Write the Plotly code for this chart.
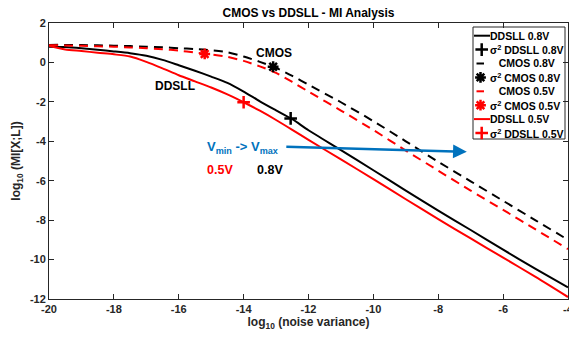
import plotly.graph_objects as go

# ---------------- data ----------------
x_noise = [-20, -19.5, -19, -18.5, -18, -17.5, -17, -16.5, -16, -15.5, -15, -14.5,
           -14, -13.5, -13, -12.5, -12, -11, -10, -9, -8, -7, -6, -5, -4]

mi_ddsll_08 = [0.80, 0.78, 0.72, 0.64, 0.56, 0.47, 0.34, 0.13, -0.14, -0.42, -0.72, -1.04,
               -1.48, -1.97, -2.43, -2.88, -3.44, -4.45, -5.47, -6.50, -7.52, -8.50, -9.50, -10.47, -11.41]
mi_cmos_08 = [0.89, 0.89, 0.88, 0.87, 0.85, 0.83, 0.80, 0.77, 0.72, 0.68, 0.62, 0.52,
              0.30, 0.03, -0.28, -0.68, -1.13, -2.02, -2.98, -4.00, -5.04, -6.03, -7.02, -8.01, -9.00]
mi_cmos_05 = [0.87, 0.86, 0.84, 0.82, 0.80, 0.76, 0.72, 0.67, 0.60, 0.50, 0.40, 0.28,
              0.08, -0.20, -0.53, -0.99, -1.48, -2.44, -3.43, -4.47, -5.49, -6.50, -7.48, -8.47, -9.47]
mi_ddsll_05 = [0.85, 0.66, 0.58, 0.49, 0.41, 0.30, 0.03, -0.30, -0.65, -0.96, -1.27, -1.62,
               -2.02, -2.45, -2.92, -3.42, -3.93, -4.92, -5.92, -6.94, -7.95, -8.93, -9.90, -10.88, -11.90]

sigma_ddsll_08_x = [-12.55]
sigma_ddsll_08_y = [-2.84]
sigma_cmos_08_x = [-13.09]
sigma_cmos_08_y = [-0.22]
sigma_cmos_05_x = [-15.2]
sigma_cmos_05_y = [0.43]
sigma_ddsll_05_x = [-14.0]
sigma_ddsll_05_y = [-2.02]

arrow_start = [-12.73, -4.27]
arrow_end = [-7.12, -4.53]

x_tick_vals = [-20, -18, -16, -14, -12, -10, -8, -6, -4]
x_tick_labels = ["-20", "-18", "-16", "-14", "-12", "-10", "-8", "-6", "-4"]
y_tick_vals = [2, 0, -2, -4, -6, -8, -10, -12]
y_tick_labels = ["2", "0", "-2", "-4", "-6", "-8", "-10", "-12"]

legend_labels = [
    "DDSLL 0.8V",
    "\u03c3<sup>2</sup> DDSLL 0.8V",
    "\u00a0\u00a0\u00a0CMOS 0.8V",
    "\u03c3<sup>2</sup> CMOS 0.8V",
    "\u00a0\u00a0\u00a0CMOS 0.5V",
    "\u03c3<sup>2</sup> CMOS 0.5V",
    "DDSLL 0.5V",
    "\u03c3<sup>2</sup> DDSLL 0.5V",
]

title_text = "CMOS vs DDSLL - MI Analysis"
x_title = "log<sub>10</sub> (noise variance)"
y_title = "log<sub>10</sub> (MI[X;L])"

# ---------------- styling ----------------
W, H = 569, 337
ML, MR, MT, MB = 49, 1, 23, 38
PW, PH = W - ML - MR, H - MT - MB
BLACK = "#000000"
RED = "#FF0000"
BLUE = "#0072BD"
AX = "#262626"
FONT = "Liberation Sans"
DASH = "9px,6px"
PLUS_SIZE = 9
STAR_SIZE = 9


def px_x(p):
    return (p - ML) / PW


def px_y(p):
    return (H - MB - p) / PH


fig = go.Figure()

line_kw = dict(mode="lines", line_shape="spline", hoverinfo="skip", showlegend=False)
fig.add_trace(go.Scatter(x=x_noise, y=mi_ddsll_08, line=dict(color=BLACK, width=2, smoothing=0.7), **line_kw))
fig.add_trace(go.Scatter(x=x_noise, y=mi_cmos_08, line=dict(color=BLACK, width=2, dash=DASH, smoothing=0.7), **line_kw))
fig.add_trace(go.Scatter(x=x_noise, y=mi_cmos_05, line=dict(color=RED, width=2, dash=DASH, smoothing=0.7), **line_kw))
fig.add_trace(go.Scatter(x=x_noise, y=mi_ddsll_05, line=dict(color=RED, width=2, smoothing=0.7), **line_kw))


def marker_trace(x, y, color, symbol, size, xa="x", ya="y"):
    return go.Scatter(x=x, y=y, mode="markers", showlegend=False, hoverinfo="skip",
                      xaxis=xa, yaxis=ya, cliponaxis=False,
                      marker=dict(symbol=symbol, size=size, color=color,
                                  line=dict(color=color, width=2.5)))


PLUS = "cross-thin-open"
STAR = "asterisk-open"
fig.add_trace(marker_trace(sigma_ddsll_08_x, sigma_ddsll_08_y, BLACK, PLUS, PLUS_SIZE))
fig.add_trace(marker_trace(sigma_cmos_08_x, sigma_cmos_08_y, BLACK, STAR, STAR_SIZE))
fig.add_trace(marker_trace(sigma_cmos_05_x, sigma_cmos_05_y, RED, STAR, STAR_SIZE))
fig.add_trace(marker_trace(sigma_ddsll_05_x, sigma_ddsll_05_y, RED, PLUS, PLUS_SIZE))

# ---------------- manual legend (MATLAB-style compact box) ----------------
shapes = []
annotations = []
box_l, box_r, box_t, box_b = 473, 565, 27, 139
shapes.append(dict(type="rect", xref="paper", yref="paper", layer="below",
                   x0=px_x(box_l), x1=px_x(box_r), y0=px_y(box_b), y1=px_y(box_t),
                   line=dict(color=AX, width=1), fillcolor="white"))
row0, row_step = 35.7, 13.9
leg_styles = [
    ("line", BLACK, "solid"),
    ("marker", BLACK, PLUS),
    ("line", BLACK, "dash"),
    ("marker", BLACK, STAR),
    ("line", RED, "dash"),
    ("marker", RED, STAR),
    ("line", RED, "solid"),
    ("marker", RED, PLUS),
]
for i, (label, (kind, color, sty)) in enumerate(zip(legend_labels, leg_styles)):
    yc = row0 + row_step * i
    if kind == "line":
        if sty == "solid":
            shapes.append(dict(type="line", xref="paper", yref="paper",
                               x0=px_x(474), x1=px_x(490), y0=px_y(yc), y1=px_y(yc),
                               line=dict(color=color, width=2)))
        else:
            shapes.append(dict(type="line", xref="paper", yref="paper",
                               x0=px_x(476.5), x1=px_x(484), y0=px_y(yc), y1=px_y(yc),
                               line=dict(color=color, width=2)))
    else:
        xs = 481.7 if sty == PLUS else 480.5
        fig.add_trace(marker_trace([px_x(xs)], [px_y(yc)], color, sty,
                                   PLUS_SIZE if sty == PLUS else STAR_SIZE, xa="x2", ya="y2"))
    annotations.append(dict(xref="paper", yref="paper", x=px_x(487.5), y=px_y(yc),
                            xanchor="left", yanchor="middle", showarrow=False,
                            text=label, font=dict(family=FONT, size=10.5, color=BLACK, weight="bold")))

# ---------------- text annotations ----------------
def ann(x, y, text, color, size):
    annotations.append(dict(x=x, y=y, xref="x", yref="y", text=text, showarrow=False,
                            xanchor="center", yanchor="middle",
                            font=dict(family=FONT, size=size, color=color, weight="bold")))


ann(-13.06, 0.49, "CMOS", BLACK, 12)
ann(-16.12, -1.20, "DDSLL", BLACK, 12)
ann(-14.02, -4.34, "V<sub>min</sub> -> V<sub>max</sub>", BLUE, 13)
ann(-14.73, -5.45, "0.5V", RED, 12.5)
ann(-13.19, -5.45, "0.8V", BLACK, 12.5)

annotations.append(dict(x=arrow_end[0], y=arrow_end[1], ax=arrow_start[0], ay=arrow_start[1],
                        xref="x", yref="y", axref="x", ayref="y", text="", showarrow=True,
                        arrowhead=2, arrowsize=1.1, arrowwidth=2.5, arrowcolor=BLUE))

axis_common = dict(showline=True, linecolor=AX, linewidth=1, mirror="ticks",
                   ticks="inside", ticklen=5, tickcolor=AX, tickwidth=1,
                   showgrid=False, zeroline=False, automargin=False,
                   ticklabeloverflow="allow",
                   tickfont=dict(family=FONT, size=11, color=AX, weight="bold"))

fig.update_layout(
    width=W, height=H,
    margin=dict(l=ML, r=MR, t=MT, b=MB, pad=0),
    paper_bgcolor="white", plot_bgcolor="white",
    showlegend=False,
    font=dict(family=FONT, color=AX),
    title=dict(text=title_text, x=0.5, xref="paper", xanchor="center",
               y=1 - 13 / H, yref="container", yanchor="middle",
               font=dict(family=FONT, size=12, color=BLACK, weight="bold")),
    xaxis=dict(range=[-20, -4], tickvals=x_tick_vals, ticktext=x_tick_labels,
               title=dict(text=x_title, standoff=2,
                          font=dict(family=FONT, size=12, color=AX, weight="bold")),
               **axis_common),
    yaxis=dict(range=[-12, 2], tickvals=y_tick_vals, ticktext=y_tick_labels,
               title=dict(text=y_title, standoff=6,
                          font=dict(family=FONT, size=12, color=AX, weight="bold")),
               **axis_common),
    xaxis2=dict(overlaying="x", anchor="y2", range=[0, 1], visible=False),
    yaxis2=dict(overlaying="y", anchor="x2", range=[0, 1], visible=False),
    shapes=shapes,
    annotations=annotations,
)

fig.write_html("out.html")
